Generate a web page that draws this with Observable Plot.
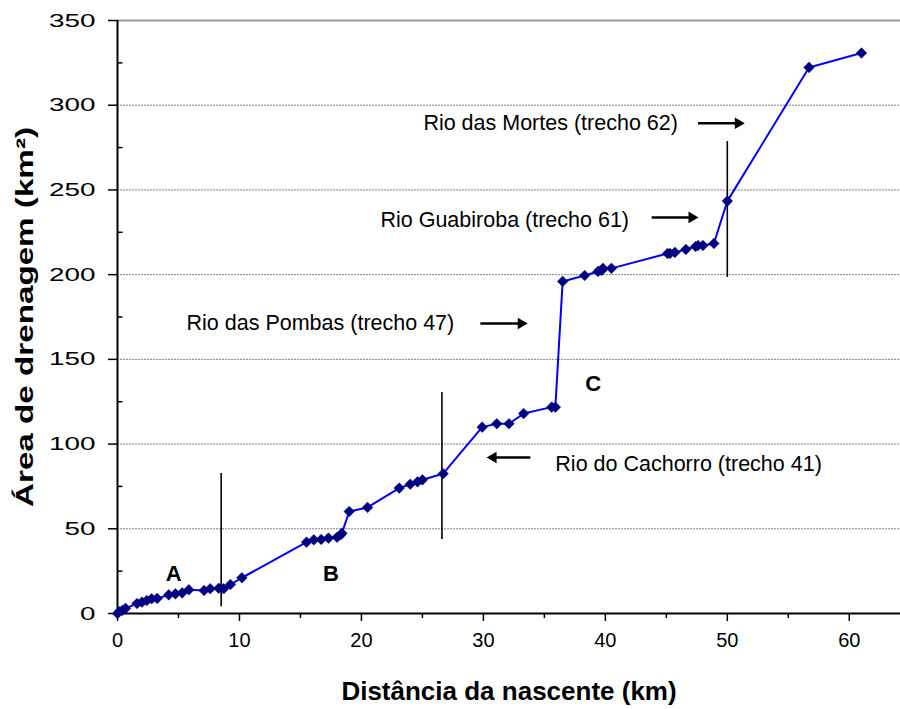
<!DOCTYPE html>
<html><head><meta charset="utf-8">
<script src="https://cdn.jsdelivr.net/npm/d3@7"></script>
<script src="https://cdn.jsdelivr.net/npm/@observablehq/plot@0.6"></script>
<style>body{margin:0;background:#fff}</style>
</head><body><div id="chart"></div>
<script>
// Distância da nascente (km) e Área de drenagem (km²)
const distancia = [0, 0.16, 0.4, 0.66, 1.6, 2.0, 2.4, 2.8, 3.25, 4.2, 4.75, 5.3, 5.85, 7.1, 7.6, 8.3, 8.7, 9.26, 10.2,
  15.5, 16.1, 16.7, 17.3, 18.0, 18.3, 18.4, 19.0, 20.5, 23.1, 24.0, 24.6, 25.0, 26.7,
  29.9, 31.1, 32.1, 33.3, 35.6, 35.9, 36.5, 38.3, 39.4, 39.7, 39.8, 40.5,
  45.1, 45.3, 45.7, 46.6, 47.4, 47.6, 48.0, 48.9, 50.0, 56.7, 61.0];
const area = [0, 1.2, 1.8, 3, 5.9, 6.7, 7.7, 8.7, 8.9, 11, 11.6, 12.2, 14, 13.6, 14.6, 14.9, 14.6, 17.1, 21.1,
  42.1, 43.5, 43.7, 44.5, 45, 46.5, 47.4, 60.2, 62.6, 74, 76.3, 77.7, 78.9, 82.5,
  110, 112, 112, 118, 121.8, 121.8, 196, 199.5, 201.9, 202.5, 203.7, 203.7,
  212.5, 212.5, 213.1, 214.9, 216.6, 217.2, 217.2, 218.4, 243.4, 322.3, 330.8];

// tick values
const xTicks = [0, 10, 20, 30, 40, 50, 60];
const xMinor = [5, 15, 25, 35, 45, 55];
const yTicks = [0, 50, 100, 150, 200, 250, 300, 350];
const yMinor = [25, 75, 125, 175, 225, 275, 325];
const yGrid = [50, 100, 150, 200, 250, 300];

// division lines between segments
const divX = [8.5, 26.6, 50.0];
const divY1 = [4, 43.7, 198.3];
const divY2 = [82.6, 130.5, 278.6];

// segment letters
const letters = ["A", "B", "C"];
const letterX = [4.6, 17.5, 39.0];
const letterY = [23.6, 23.6, 135.2];

// tributary annotations
const labels = ["Rio das Mortes (trecho 62)", "Rio Guabiroba (trecho 61)", "Rio das Pombas (trecho 47)", "Rio do Cachorro (trecho 41)"];
const labelX = [25.08, 21.56, 5.66, 35.9];
const labelY = [289.3, 232.0, 171.2, 88.0];
const arrowTail = [47.6, 43.8, 29.75, 33.85];
const arrowTip = [51.3, 47.5, 33.5, 30.4];
const arrowY = [289.3, 233.8, 171.2, 92.1];

const pts = distancia.map((d, i) => ({x: d, y: area[i]}));
const divs = divX.map((x, i) => ({x, y1: divY1[i], y2: divY2[i]}));
const lets = letters.map((t, i) => ({t, x: letterX[i], y: letterY[i]}));
const labs = labels.map((t, i) => ({t, x: labelX[i], y: labelY[i]}));
const arrows = arrowTail.map((t, i) => ({x1: t, x2: arrowTip[i], y: arrowY[i]}));
const arrowsR = arrows.filter(a => a.x2 > a.x1);
const arrowsL = arrows.filter(a => a.x2 < a.x1);

const font = "'Liberation Sans', Arial, sans-serif";

const chart = Plot.plot({
  width: 900, height: 709,
  marginLeft: 117, marginRight: 0, marginTop: 20, marginBottom: 96,
  x: {domain: [0, 64.2]},
  y: {domain: [0, 350]},
  style: {fontFamily: font, background: "white", color: "black"},
  marks: [
    Plot.gridY(yGrid, {stroke: "#808080", strokeOpacity: 1, strokeDasharray: "2,1", strokeWidth: 1}),
    Plot.ruleY([350], {stroke: "#9a9a9a", strokeWidth: 2}),
    Plot.axisY(yTicks, {tickSize: 9, tickPadding: 13, fontSize: 19, strokeWidth: 1.5, label: null}),
    Plot.ruleY(yMinor, {x1: 0, x2: 0.45, stroke: "black", strokeWidth: 1.5}),
    Plot.axisX(xTicks, {tickSize: 8, tickPadding: 11, fontSize: 20, strokeWidth: 1.5, label: null}),
    Plot.ruleX(xMinor, {y1: 0, y2: -3, stroke: "black", strokeWidth: 1.5}),
    Plot.ruleX([0], {y1: 0, y2: 350, stroke: "black", strokeWidth: 2}),
    Plot.ruleY([0], {stroke: "black", strokeWidth: 2}),
    Plot.ruleX(divs, {x: "x", y1: "y1", y2: "y2", stroke: "black", strokeWidth: 1.6}),
    Plot.line(pts, {x: "x", y: "y", stroke: "#0000ff", strokeWidth: 2}),
    Plot.dot(pts, {x: "x", y: "y", symbol: "diamond2", r: 4.8, fill: "#000080", stroke: "#000080", strokeWidth: 0.5}),
    Plot.text(lets, {x: "x", y: "y", text: "t", fontSize: 22, fontWeight: "bold", fill: "black"}),
    Plot.text(labs, {x: "x", y: "y", text: "t", fontSize: 21.5, textAnchor: "start", fill: "black"}),
    Plot.link(arrowsR, {x1: "x1", x2: d => d.x2 - 0.5, y1: "y", y2: "y", stroke: "black", strokeWidth: 2.5}),
    Plot.dot(arrowsR, {x: "x2", y: "y", symbol: "triangle2", rotate: 90, r: 5.5, fill: "black", dx: -5}),
    Plot.link(arrowsL, {x1: "x1", x2: d => d.x2 + 0.5, y1: "y", y2: "y", stroke: "black", strokeWidth: 2.5}),
    Plot.dot(arrowsL, {x: "x2", y: "y", symbol: "triangle2", rotate: -90, r: 5.5, fill: "black", dx: 5}),
    Plot.text(["Distância da nascente (km)"], {frameAnchor: "bottom", dy: 86, fontSize: 26, fontWeight: "bold", fill: "black"}),
    Plot.text(["Área de drenagem (km²)"], {frameAnchor: "left", textAnchor: "middle", dx: -92, rotate: -90, fontSize: 24, fontWeight: "bold", fill: "black", className: "ytitle"})
  ]
});
document.getElementById("chart").appendChild(chart);
// widen the y tick labels and y title to match the reference's stretched lettering
d3.select(chart).selectAll('g[aria-label="y-axis tick label"] text')
  .each(function() { const n = this.textContent.length; d3.select(this).attr("textLength", n * 15.5).attr("lengthAdjust", "spacingAndGlyphs"); });
d3.select(chart).selectAll('.ytitle text').attr("textLength", 380).attr("lengthAdjust", "spacingAndGlyphs");
</script>
</body></html>
